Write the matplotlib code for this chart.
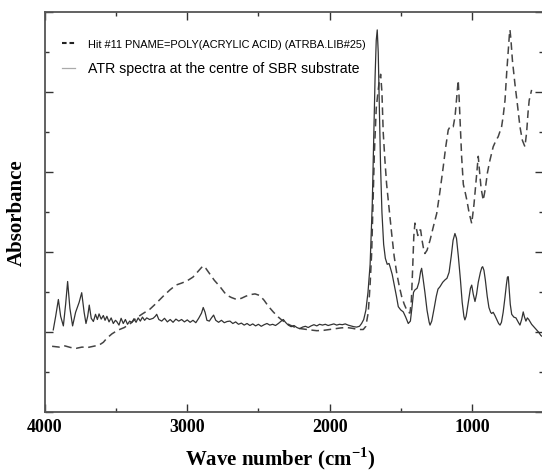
import numpy as np
import matplotlib
matplotlib.use("Agg")
import matplotlib.pyplot as plt
from matplotlib.ticker import MultipleLocator, NullFormatter

plt.rcParams['mathtext.fontset'] = 'custom'
plt.rcParams['mathtext.rm'] = 'Liberation Serif:bold'
plt.rcParams['mathtext.bf'] = 'Liberation Serif:bold'

# ATR spectrum measured at the centre of the SBR substrate
atr_wn = [3942, 3925, 3906, 3890, 3871, 3855, 3841, 3825, 3806, 3785, 3760, 3742, 3725, 3712,
          3700, 3689, 3675, 3660, 3645, 3632, 3620, 3605, 3590, 3578, 3565, 3550, 3535, 3520,
          3505, 3496, 3480, 3465, 3450, 3435, 3420, 3405, 3390, 3375, 3360, 3345, 3330, 3315,
          3300, 3285, 3265, 3240, 3225, 3215, 3200, 3180, 3160, 3140, 3120, 3100, 3080, 3060,
          3040, 3020, 3000, 2980, 2960, 2940, 2920, 2900, 2888, 2875, 2862, 2845, 2830, 2815,
          2800, 2780, 2760, 2740, 2720, 2700, 2680, 2660, 2640, 2620, 2600, 2580, 2560, 2540,
          2520, 2500, 2480, 2460, 2440, 2420, 2400, 2380, 2360, 2340, 2325, 2310, 2290, 2270,
          2250, 2230, 2210, 2190, 2170, 2150, 2130, 2110, 2090, 2070, 2050, 2030, 2010, 1990,
          1970, 1950, 1930, 1910, 1890, 1870, 1850, 1830, 1810, 1790, 1775, 1760, 1745, 1730,
          1715, 1700, 1690, 1680, 1672, 1665, 1658, 1650, 1642, 1632, 1620, 1608, 1595, 1582,
          1575, 1560, 1545, 1530, 1517, 1500, 1482, 1465, 1447, 1432, 1420, 1410, 1400, 1385,
          1372, 1360, 1353, 1345, 1330, 1315, 1300, 1294, 1282, 1265, 1250, 1238, 1224, 1205,
          1189, 1175, 1160, 1145, 1132, 1119, 1108, 1095, 1080, 1068, 1056, 1049, 1040, 1025,
          1010, 1001, 990, 978, 967, 955, 940, 930, 924, 915, 905, 892, 880, 868, 861, 850, 838,
          825, 812, 802, 792, 780, 768, 757, 750, 744, 738, 730, 720, 705, 690, 675, 662, 650,
          639, 630, 620, 610, 600, 590, 580, 565, 550, 530, 515, 507]
atr_abs = [0.206, 0.24, 0.282, 0.24, 0.216, 0.27, 0.327, 0.26, 0.216, 0.25, 0.275, 0.299, 0.25, 0.222,
           0.24, 0.268, 0.235, 0.227, 0.245, 0.232, 0.246, 0.233, 0.242, 0.23, 0.24, 0.226, 0.236, 0.222,
           0.23, 0.227, 0.218, 0.235, 0.222, 0.232, 0.22, 0.228, 0.224, 0.234, 0.225, 0.236, 0.228, 0.238,
           0.23, 0.236, 0.232, 0.235, 0.24, 0.245, 0.232, 0.228, 0.235, 0.226, 0.232, 0.225, 0.233, 0.228,
           0.232, 0.226, 0.231, 0.225, 0.23, 0.224, 0.235, 0.248, 0.262, 0.25, 0.23, 0.228, 0.236, 0.243,
           0.23, 0.225, 0.23, 0.224, 0.227, 0.228, 0.222, 0.226, 0.22, 0.223, 0.218, 0.222, 0.217, 0.221,
           0.216, 0.22, 0.215, 0.219, 0.222, 0.218, 0.22, 0.217, 0.222, 0.228, 0.232, 0.225, 0.218, 0.214,
           0.217, 0.212, 0.209, 0.213, 0.215, 0.212, 0.216, 0.219, 0.216, 0.22, 0.218, 0.22, 0.217, 0.219,
           0.221, 0.218, 0.22, 0.219, 0.221, 0.218, 0.216, 0.214, 0.213, 0.215, 0.222, 0.232, 0.255, 0.30,
           0.37, 0.52, 0.68, 0.84, 0.93, 0.956, 0.90, 0.76, 0.62, 0.50, 0.42, 0.385, 0.37, 0.372,
           0.364, 0.345, 0.318, 0.29, 0.264, 0.256, 0.251, 0.238, 0.222, 0.228, 0.265, 0.30, 0.306, 0.31,
           0.325, 0.352, 0.36, 0.34, 0.30, 0.255, 0.225, 0.218, 0.228, 0.26, 0.29, 0.308, 0.314, 0.325,
           0.331, 0.335, 0.35, 0.39, 0.43, 0.447, 0.435, 0.39, 0.33, 0.275, 0.24, 0.231, 0.24, 0.275,
           0.31, 0.318, 0.295, 0.277, 0.295, 0.325, 0.35, 0.362, 0.364, 0.355, 0.33, 0.29, 0.262, 0.25, 0.247, 0.25, 0.242,
           0.232, 0.222, 0.218, 0.225, 0.25, 0.285, 0.32, 0.338, 0.339, 0.31, 0.27, 0.245, 0.238, 0.236, 0.226, 0.218, 0.232,
           0.251, 0.238, 0.228, 0.236, 0.232, 0.226, 0.22, 0.214, 0.208, 0.20, 0.192, 0.19]

# library hit: poly(acrylic acid)
paa_wn = [3950, 3900, 3860, 3820, 3780, 3740, 3700, 3660, 3620, 3590, 3566, 3530, 3490, 3442,
          3426, 3400, 3360, 3320, 3262, 3220, 3170, 3122, 3080, 3040, 3004, 2960, 2930, 2900,
          2888, 2870, 2840, 2810, 2770, 2740, 2723, 2690, 2653, 2620, 2590, 2560, 2524, 2490,
          2460, 2430, 2396, 2360, 2337, 2300, 2278, 2240, 2200, 2138, 2090, 2040, 2000, 1960,
          1920, 1880, 1840, 1800, 1763, 1745, 1728, 1715, 1704, 1694, 1685, 1672, 1660, 1650,
          1641, 1632, 1623, 1611, 1599, 1582, 1564, 1546, 1528, 1510, 1493, 1475, 1458, 1445,
          1435, 1425, 1416, 1408, 1400, 1390, 1380, 1370, 1360, 1350, 1340, 1330, 1315, 1294,
          1270, 1247, 1225, 1201, 1185, 1166, 1150, 1131, 1118, 1108, 1100, 1096, 1090, 1084,
          1072, 1060, 1050, 1035, 1020, 1001, 985, 970, 960, 955, 948, 935, 920, 905, 890, 873,
          850, 830, 815, 800, 791, 780, 767, 755, 744, 736, 732, 725, 715, 697, 680, 662, 645,
          627, 615, 605, 597, 580]
paa_abs = [0.165, 0.163, 0.166, 0.162, 0.160, 0.163, 0.162, 0.165, 0.168, 0.175, 0.185, 0.196, 0.205, 0.212,
           0.216, 0.222, 0.235, 0.245, 0.258, 0.272, 0.29, 0.306, 0.318, 0.323, 0.328, 0.338, 0.35, 0.362,
           0.366, 0.36, 0.345, 0.33, 0.314, 0.30, 0.293, 0.287, 0.282, 0.285, 0.29, 0.294, 0.296, 0.292,
           0.28, 0.265, 0.251, 0.238, 0.231, 0.222, 0.218, 0.212, 0.209, 0.206, 0.204, 0.205, 0.207, 0.209,
           0.211, 0.212, 0.21, 0.207, 0.207, 0.215, 0.25, 0.32, 0.40, 0.53, 0.65, 0.76, 0.80, 0.83,
           0.845, 0.80, 0.70, 0.63, 0.57, 0.51, 0.448, 0.39, 0.348, 0.315, 0.289, 0.27, 0.256, 0.25,
           0.248, 0.28, 0.36, 0.44, 0.473, 0.46, 0.442, 0.455, 0.456, 0.43, 0.41, 0.397, 0.405, 0.43,
           0.465, 0.497, 0.55, 0.614, 0.66, 0.706, 0.716, 0.714, 0.74, 0.78, 0.81, 0.83, 0.79, 0.74,
           0.64, 0.57, 0.555, 0.53, 0.50, 0.472, 0.52, 0.58, 0.62, 0.64, 0.61, 0.56, 0.53, 0.56, 0.60, 0.63,
           0.664, 0.68, 0.689, 0.705, 0.714, 0.74, 0.78, 0.85, 0.906, 0.945, 0.956, 0.93, 0.88, 0.82, 0.77, 0.714, 0.68,
           0.664, 0.70, 0.75, 0.78, 0.806]

x_ticks = [4000, 3000, 2000, 1000]
x_ticklabels = ['4000', '3000', '2000', '1000']
paa_label = 'Hit #11 PNAME=POLY(ACRYLIC ACID) (ATRBA.LIB#25)'
atr_label = 'ATR spectra at the centre of SBR substrate'

fig = plt.figure(figsize=(5.42, 4.71), dpi=100)
ax = fig.add_axes([45/542, 58.7/471, 498/542, 400/471])

ax.plot(paa_wn, paa_abs, color='#444444', lw=1.1, dashes=(5, 3), label=paa_label)
ax.plot(atr_wn, atr_abs, color='#333333', lw=0.9, label=atr_label)

ax.set_xlim(4000, 500)
ax.set_ylim(0, 1.0)

ax.set_xticks(x_ticks)
ax.set_xticklabels(x_ticklabels, fontfamily='Liberation Serif', fontweight='bold', fontsize=13)
ax.xaxis.set_minor_locator(MultipleLocator(500))
ax.yaxis.set_major_locator(MultipleLocator(0.2))
ax.yaxis.set_minor_locator(MultipleLocator(0.1))
ax.yaxis.set_major_formatter(NullFormatter())
ax.tick_params(which='both', direction='in', top=True, right=True, color='#333333', width=1.0)
ax.tick_params(which='major', length=6, pad=5)
ax.tick_params(which='minor', length=3.2)
for s in ax.spines.values():
    s.set_color('#555555')
    s.set_linewidth(1.3)

ax.set_xlabel(r'Wave number (cm$^{\mathbf{-1}}$)', fontfamily='Liberation Serif',
              fontweight='bold', fontsize=15)
ax.xaxis.set_label_coords((280 - 45) / 498, -(459 - 412.3) / 400)
ax.xaxis.label.set_va('center')
ax.set_ylabel('Absorbance', fontfamily='Liberation Serif', fontweight='bold', fontsize=15)
ax.yaxis.set_label_coords(-(45 - 17) / 498, 0.5)
ax.yaxis.label.set_va('center')

leg = ax.legend(loc='upper left', bbox_to_anchor=(0.034, 0.935), frameon=False,
                handlelength=0.95, handletextpad=0.92, borderpad=0, borderaxespad=0,
                labelspacing=0.85, prop={'family': 'Liberation Sans', 'size': 10.2})
leg.get_texts()[0].set_fontsize(7.9)
leg_lines = leg.get_lines()
leg_lines[0].set_dashes((2.2, 1.4))
leg_lines[0].set_linewidth(1.5)
leg_lines[0].set_color('#222222')
leg_lines[1].set_color('#aaaaaa')

fig.savefig('out.png', dpi=100)
